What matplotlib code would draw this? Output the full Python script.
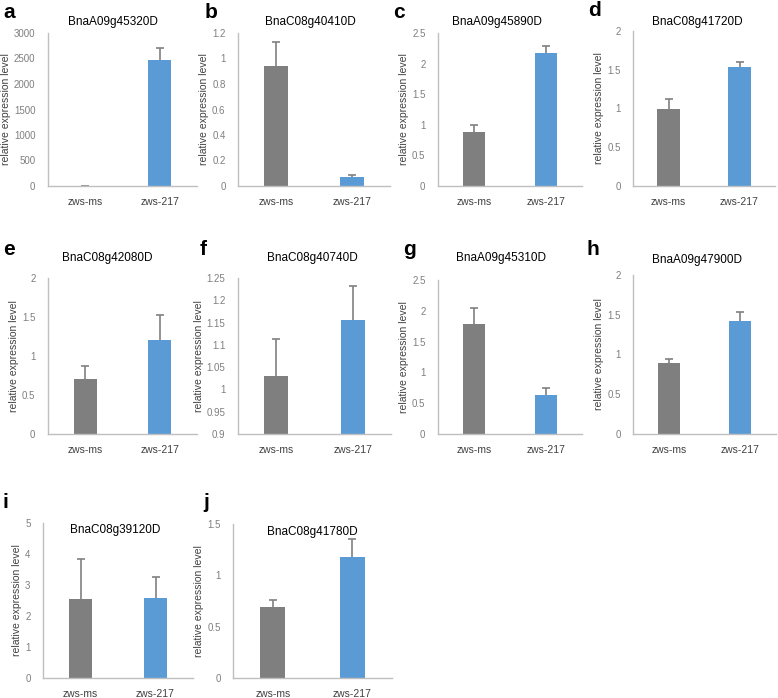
import numpy as np
import matplotlib
matplotlib.use('Agg')
import matplotlib.pyplot as plt

plt.rcParams['font.family'] = ['Liberation Sans', 'DejaVu Sans']

# 数据
groups = ['zws-ms', 'zws-217']
letters = ['a', 'b', 'c', 'd', 'e', 'f', 'g', 'h', 'i', 'j']
genes = ['BnaA09g45320D', 'BnaC08g40410D', 'BnaA09g45890D', 'BnaC08g41720D',
         'BnaC08g42080D', 'BnaC08g40740D', 'BnaA09g45310D', 'BnaA09g47900D',
         'BnaC08g39120D', 'BnaC08g41780D']
means_ms = [1, 0.94, 0.89, 1.0, 0.71, 1.03, 1.78, 0.89, 2.55, 0.69]
means_217 = [2470, 0.07, 2.17, 1.53, 1.21, 1.155, 0.63, 1.42, 2.58, 1.18]
err_ms = [0, 0.19, 0.11, 0.12, 0.16, 0.083, 0.27, 0.05, 1.3, 0.07]
err_217 = [240, 0.015, 0.12, 0.07, 0.31, 0.077, 0.11, 0.12, 0.67, 0.17]
y_ranges = [(0, 3000, 500), (0, 1.2, 0.2), (0, 2.5, 0.5), (0, 2, 0.5),
            (0, 2, 0.5), (0.9, 1.25, 0.05), (0, 2.5, 0.5), (0, 2, 0.5),
            (0, 5, 1), (0, 1.5, 0.5)]

# 每个子图的像素位置 (左, 右, 上, 下)
boxes = [(48, 197, 33, 186), (238, 390, 33, 186), (438, 582, 33, 186), (633, 775, 31, 186),
         (48, 197, 278, 434), (238, 391, 278, 434), (438, 582, 280, 434), (633, 776, 275, 434),
         (43, 193, 523, 678), (233, 392, 524, 678)]
# 标题中心和字母位置 (像素)
title_pos = [(113, 22), (310, 22), (497, 22), (697, 22),
             (107, 258), (312, 258), (501, 258), (697, 260),
             (115, 530), (312, 532)]
letter_pos = [(3, 12), (205, 12), (393, 12), (588, 10),
              (3, 250), (200, 249), (403, 250), (587, 250),
              (3, 503), (203, 503)]

W, H = 778, 698
fig = plt.figure(figsize=(W / 100, H / 100), dpi=100)

col_gray = '#7f7f7f'
col_blue = '#5b9bd5'

for i in range(10):
    l, r, t, b = boxes[i]
    ax = fig.add_axes([l / W, 1 - b / H, (r - l) / W, (b - t) / H])
    x = np.arange(2)
    vals = [means_ms[i], means_217[i]]
    errs = [err_ms[i], err_217[i]]
    lo, hi, step = y_ranges[i]
    heights = [v - lo for v in vals]
    ax.bar(x, heights, bottom=lo, width=0.31, color=[col_gray, col_blue], zorder=2)
    eb = ax.errorbar(x, vals, yerr=[[0, 0], errs], fmt='none', ecolor='#808080',
                     elinewidth=1.2, capsize=3, capthick=1.2, zorder=1)
    # 只保留上方的误差线帽
    eb[1][0].set_visible(False)
    ax.set_xlim(-0.5, 1.5)
    ax.set_ylim(lo, hi)
    ticks = np.arange(lo, hi + step / 2, step)
    ax.set_yticks(ticks)
    ax.set_yticklabels(['%g' % round(v, 2) for v in ticks], fontsize=7, color='#7f7f7f')
    ax.set_xticks(x)
    ax.set_xticklabels(groups, fontsize=7.5, color='#404040')
    ax.tick_params(axis='x', length=0, pad=8)
    ax.tick_params(axis='y', length=0, pad=9)
    for s in ['top', 'right']:
        ax.spines[s].set_visible(False)
    for s in ['left', 'bottom']:
        ax.spines[s].set_color('#bfbfbf')
        ax.spines[s].set_linewidth(1)
    ax.set_ylabel('relative expression level', fontsize=7.5, color='#404040', labelpad=2)

    tx, ty = title_pos[i]
    fig.text(tx / W, 1 - ty / H, genes[i], fontsize=8.5, ha='center', va='center')
    lx, ly = letter_pos[i]
    fig.text(lx / W, 1 - ly / H, letters[i], fontsize=15, fontweight='bold',
             ha='left', va='center')

fig.savefig('out.png', dpi=100)
